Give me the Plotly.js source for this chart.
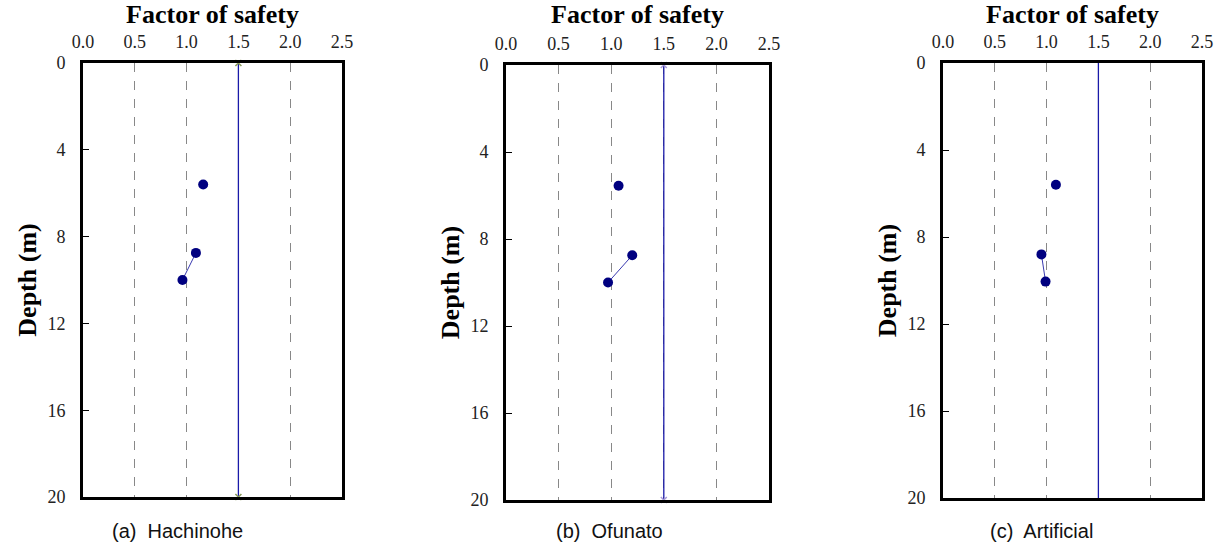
<!DOCTYPE html>
<html>
<head>
<meta charset="utf-8">
<script src="https://cdn.plot.ly/plotly-3.0.1.min.js"></script>
<style>html,body{margin:0;padding:0;background:#fff}#chart{width:1219px;height:547px}</style>
</head>
<body>
<div id="chart"></div>
<script>
// Data
const panelCaptions = ["(a)  Hachinohe", "(b)  Ofunato", "(c)  Artificial"];
const depthA = [5.6, 8.75, 10.0];
const fsA    = [1.16, 1.09, 0.96];
const depthB = [5.55, 8.75, 10.0];
const fsB    = [1.07, 1.20, 0.97];
const depthC = [5.6, 8.8, 10.05];
const fsC    = [1.09, 0.95, 0.99];
const limitFS = [1.5, 1.5];
const limitDepth = [0, 20];
const xTickVals = [0.0, 0.5, 1.0, 1.5, 2.0, 2.5];
const xTickText = ["0.0", "0.5", "1.0", "1.5", "2.0", "2.5"];
const yTickVals = [0, 4, 8, 12, 16, 20];

const panels = [
  {depth: depthA, fs: fsA, xd: [83/1219, 342/1219], yd: [1-497/547, 1-63/547], endMarkers: true, endColor: '#8a9a5b'},
  {depth: depthB, fs: fsB, xd: [506/1219, 769/1219], yd: [1-500/547, 1-65/547], endMarkers: true, endColor: '#a89ad8'},
  {depth: depthC, fs: fsC, xd: [943/1219, 1202/1219], yd: [1-498/547, 1-63/547], endMarkers: false, endColor: '#1a1aa8'}
];

const serif = '"Liberation Serif"';
const traces = [];
const layout = {
  width: 1219, height: 547,
  margin: {l: 0, r: 0, t: 0, b: 0},
  paper_bgcolor: '#fff', plot_bgcolor: '#fff',
  showlegend: false,
  annotations: []
};

panels.forEach((p, i) => {
  const n = i === 0 ? '' : String(i + 1);
  const xa = 'x' + n, ya = 'y' + n;
  traces.push({
    x: limitFS, y: limitDepth, xaxis: xa, yaxis: ya,
    mode: p.endMarkers ? 'lines+markers' : 'lines',
    line: {color: '#1a1aa8', width: 1.3},
    marker: {symbol: 'x-thin', size: 6, line: {color: p.endColor, width: 1.5}, color: p.endColor},
    cliponaxis: false, hoverinfo: 'skip'
  });
  traces.push({
    x: p.fs.slice(1), y: p.depth.slice(1), xaxis: xa, yaxis: ya,
    mode: 'lines', line: {color: '#3a3ab0', width: 1}
  });
  traces.push({
    x: p.fs, y: p.depth, xaxis: xa, yaxis: ya,
    mode: 'markers', marker: {color: '#000080', size: 10}
  });

  layout['xaxis' + n] = {
    domain: p.xd, anchor: ya, side: 'top', range: [0, 2.5],
    tickvals: xTickVals, ticktext: xTickText, ticks: '',
    tickfont: {family: serif, size: 18, color: '#222'}, ticklabelstandoff: 5,
    showgrid: true, gridcolor: '#888', griddash: 'dash', gridwidth: 1,
    zeroline: false, showline: true, linecolor: '#000', linewidth: 3, mirror: true,
    title: {text: '<b>Factor of safety</b>', font: {family: serif, size: 26, color: '#000'}, standoff: 4},
    fixedrange: true
  };
  layout['yaxis' + n] = {
    domain: p.yd, anchor: xa, range: [20, 0],
    tickvals: yTickVals, ticks: 'inside', ticklen: 6, tickcolor: '#000', tickwidth: 1,
    tickfont: {family: serif, size: 18, color: '#222'}, ticklabelstandoff: 11,
    showgrid: false, zeroline: false, showline: true, linecolor: '#000', linewidth: 3, mirror: true,
    title: {text: '<b>Depth (m)</b>', font: {family: serif, size: 26, color: '#000'}, standoff: 4},
    fixedrange: true
  };
  layout.annotations.push({
    xref: 'paper', yref: 'paper',
    x: [178/1219, 609/1219, 1041/1219][i], y: 1 - 531/547,
    text: panelCaptions[i], showarrow: false,
    font: {family: '"Liberation Sans"', size: 20, color: '#111'},
    xanchor: 'center', yanchor: 'middle'
  });
});

Plotly.newPlot('chart', traces, layout, {staticPlot: true, displayModeBar: false});
</script>
</body>
</html>
